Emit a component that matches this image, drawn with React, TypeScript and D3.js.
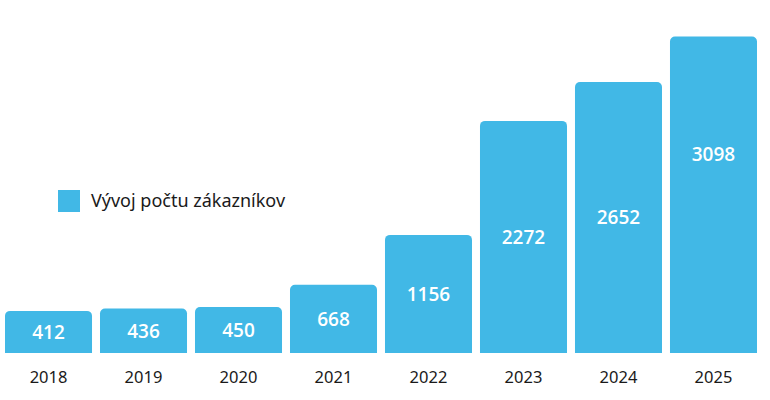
import React from "react";
import * as d3 from "d3";

const years = ["2018", "2019", "2020", "2021", "2022", "2023", "2024", "2025"];
const customers = [412, 436, 450, 668, 1156, 2272, 2652, 3098];
const seriesName = "Vývoj počtu zákazníkov";

const W = 770;
const H = 400;
const COLOR = "#41b8e6";

export default function App() {
  const x = d3.scaleBand<string>().domain(years).range([5, 757]).paddingInner(0.084).paddingOuter(0);
  const y = d3.scaleLinear().domain([0, 3230]).range([353, 23]);
  const r = 5;
  const barPath = (x0: number, y0: number, w: number, y1: number) => {
    const p = d3.path();
    p.moveTo(x0, y1);
    p.lineTo(x0, y0 + r);
    p.arcTo(x0, y0, x0 + r, y0, r);
    p.lineTo(x0 + w - r, y0);
    p.arcTo(x0 + w, y0, x0 + w, y0 + r, r);
    p.lineTo(x0 + w, y1);
    p.closePath();
    return p.toString();
  };
  return (
    <svg width={W} height={H} style={{ position: "absolute", left: 0, top: 0 }}>
      <rect width={W} height={H} fill="#fff" />
      {years.map((yr, i) => {
        const x0 = x(yr)!;
        const w = x.bandwidth();
        const top = y(customers[i]);
        const bottom = y(0);
        const cy = i === years.length - 1 ? 154 : (top + bottom) / 2;
        return (
          <g key={yr}>
            <path d={barPath(x0, top, w, bottom)} fill={COLOR} />
            <text
              x={x0 + w / 2}
              y={cy}
              dy="0.36em"
              textAnchor="middle"
              fill="#fff"
              fontFamily="Open Sans, sans-serif"
              fontSize={19}
              fontWeight={600}
            >
              {customers[i]}
            </text>
            <text
              x={x0 + w / 2}
              y={377}
              dy="0.35em"
              textAnchor="middle"
              fill="#1a1a1a"
              fontFamily="Noto Sans, sans-serif"
              fontSize={16.5}
            >
              {yr}
            </text>
          </g>
        );
      })}
      <rect x={58} y={190} width={22} height={22} fill={COLOR} />
      <text x={91} y={201} dy="0.35em" fill="#1a1a1a" fontFamily="Noto Sans, sans-serif" fontSize={18}>
        {seriesName}
      </text>
    </svg>
  );
}
